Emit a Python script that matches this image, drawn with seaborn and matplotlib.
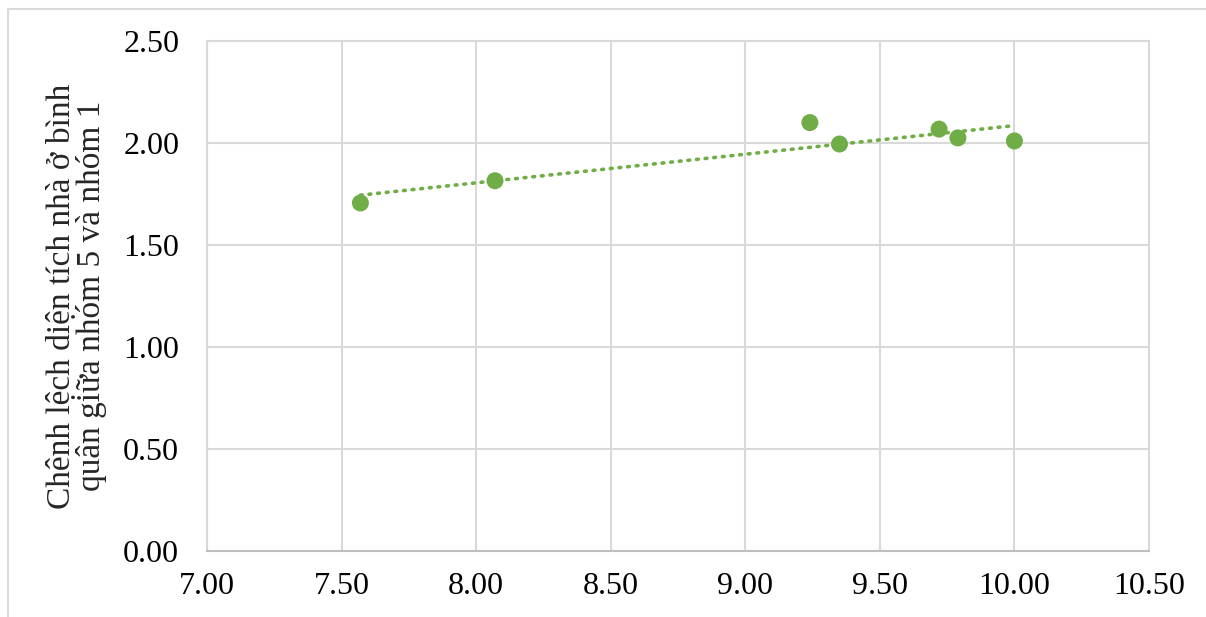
import numpy as np
import pandas as pd
import seaborn as sns
import matplotlib
matplotlib.use("Agg")
import matplotlib.pyplot as plt
from matplotlib.patches import Rectangle

# Data
x_vals = [7.57, 8.07, 9.24, 9.35, 9.72, 9.79, 10.00]
y_vals = [1.706, 1.815, 2.100, 1.995, 2.068, 2.025, 2.010]
x_ticks = [7.00, 7.50, 8.00, 8.50, 9.00, 9.50, 10.00, 10.50]
y_ticks = [0.00, 0.50, 1.00, 1.50, 2.00, 2.50]
y_label = "Chênh lệch diện tích nhà ở bình\nquân giữa nhóm 5 và nhóm 1"

df = pd.DataFrame({"x": x_vals, "y": y_vals})

sns.set_theme(style="white")
plt.rcParams["font.family"] = ["Liberation Serif", "DejaVu Serif"]

W, H = 1206, 617
fig = plt.figure(figsize=(W / 100, H / 100), dpi=100)
ax = fig.add_axes([207 / W, 1 - 551 / H, (1149 - 207) / W, (551 - 41) / H])

green = "#70AD47"
sns.regplot(data=df, x="x", y="y", ax=ax, ci=None, truncate=True,
            scatter_kws=dict(s=150, color=green, edgecolors="none", alpha=1, zorder=3),
            line_kws=dict(color=green, linestyle=(0, (0.5, 1.9)), linewidth=2.6,
                          dash_capstyle="round", zorder=2))

ax.set_xlim(7.0, 10.5)
ax.set_ylim(0.0, 2.5)
ax.set_xticks(x_ticks)
ax.set_yticks(y_ticks)
ax.set_xticklabels([f"{v:.2f}" for v in x_ticks])
ax.set_yticklabels([f"{v:.2f}" for v in y_ticks])
ax.tick_params(axis="both", length=0, labelsize=23, colors="black")
ax.tick_params(axis="y", pad=20)
ax.tick_params(axis="x", pad=15)
ax.set_xlabel("")
ax.set_ylabel(y_label, fontsize=24, linespacing=0.92, labelpad=12)

ax.grid(True, color="#d9d9d9", linewidth=1.5)
ax.set_axisbelow(True)
for side in ["left", "top", "right"]:
    ax.spines[side].set_color("#d9d9d9")
    ax.spines[side].set_linewidth(1.5)
ax.spines["bottom"].set_color("#bfbfbf")
ax.spines["bottom"].set_linewidth(1.5)

# outer chart border (cropped at right and bottom)
fig.patches.append(Rectangle((8 / W, -0.05), 1.1, 1 - 9 / H + 0.05,
                             transform=fig.transFigure, fill=False,
                             edgecolor="#d9d9d9", linewidth=1.5))

fig.savefig("out.png", dpi=100, facecolor="white")
